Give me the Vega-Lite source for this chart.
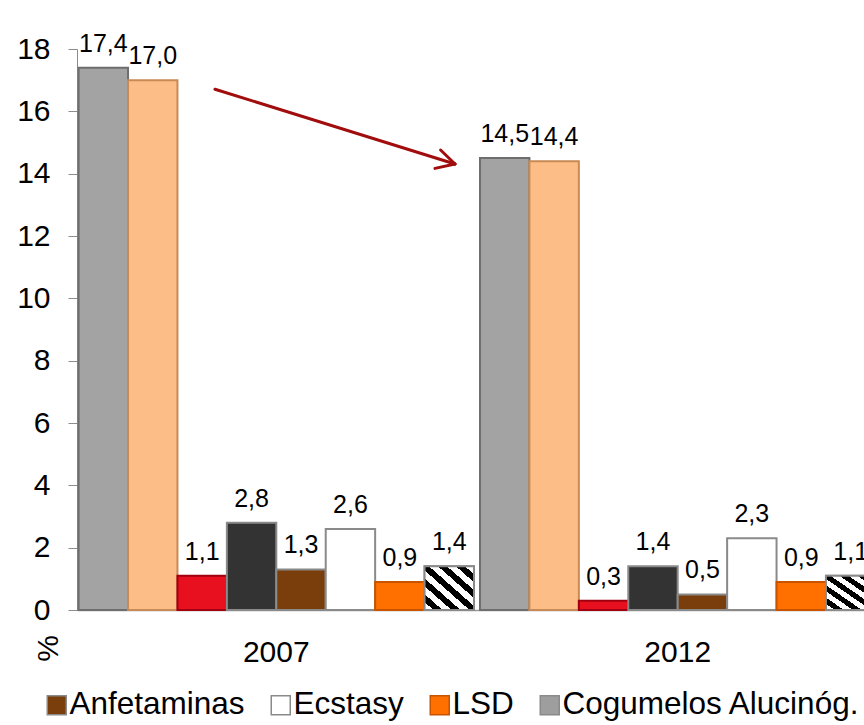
{
  "$schema": "https://vega.github.io/schema/vega-lite/v6.json",
  "width": 787,
  "height": 561,
  "autosize": {"type": "none"},
  "padding": {"left": 77, "top": 49, "right": 0, "bottom": 115},
  "background": "#ffffff",
  "config": {
    "locale": {"number": {"decimal": ",", "thousands": ".", "grouping": [3], "currency": ["", " €"]}},
    "font": "Liberation Sans",
    "view": {"stroke": null}
  },
  "datasets": {
    "prev": [
      {"ano": "2007", "substancia": "Qualquer droga", "valor": 17.4},
      {"ano": "2007", "substancia": "Cannabis", "valor": 17.0},
      {"ano": "2007", "substancia": "Heroína", "valor": 1.1},
      {"ano": "2007", "substancia": "Cocaína", "valor": 2.8},
      {"ano": "2007", "substancia": "Anfetaminas", "valor": 1.3},
      {"ano": "2007", "substancia": "Ecstasy", "valor": 2.6},
      {"ano": "2007", "substancia": "LSD", "valor": 0.9},
      {"ano": "2007", "substancia": "Cogumelos Alucinóg.", "valor": 1.4},
      {"ano": "2012", "substancia": "Qualquer droga", "valor": 14.5},
      {"ano": "2012", "substancia": "Cannabis", "valor": 14.4},
      {"ano": "2012", "substancia": "Heroína", "valor": 0.3},
      {"ano": "2012", "substancia": "Cocaína", "valor": 1.4},
      {"ano": "2012", "substancia": "Anfetaminas", "valor": 0.5},
      {"ano": "2012", "substancia": "Ecstasy", "valor": 2.3},
      {"ano": "2012", "substancia": "LSD", "valor": 0.9},
      {"ano": "2012", "substancia": "Cogumelos Alucinóg.", "valor": 1.1}
    ],
    "seta": [
      {"x": 0.345, "y": 16.71, "x2": 0.945, "y2": 14.31},
      {"x": 0.909, "y": 14.76, "x2": 0.945, "y2": 14.31},
      {"x": 0.895, "y": 14.17, "x2": 0.945, "y2": 14.31}
    ]
  },
  "resolve": {"scale": {"x": "independent"}, "axis": {"x": "independent"}},
  "layer": [
    {
      "data": {"name": "prev"},
      "encoding": {
        "x": {
          "field": "ano",
          "type": "nominal",
          "scale": {"domain": ["2007", "2012"], "range": [0, 800], "paddingInner": 0.015, "paddingOuter": 0.004},
          "axis": {
            "title": null,
            "labelAngle": 0,
            "labelFontSize": 30,
            "labelColor": "#000000",
            "labelPadding": 27,
            "ticks": false,
            "tickSize": 0,
            "domainColor": "#9a9a9a",
            "domainWidth": 1.5
          }
        },
        "xOffset": {
          "field": "substancia",
          "type": "nominal",
          "scale": {
            "domain": ["Qualquer droga", "Cannabis", "Heroína", "Cocaína", "Anfetaminas", "Ecstasy", "LSD", "Cogumelos Alucinóg."],
            "paddingInner": 0,
            "paddingOuter": 0
          }
        },
        "y": {
          "field": "valor",
          "type": "quantitative",
          "scale": {"domain": [0, 18]},
          "axis": {
            "values": [0, 2, 4, 6, 8, 10, 12, 14, 16, 18],
            "grid": false,
            "labelFontSize": 30,
            "labelColor": "#000000",
            "labelPadding": 18,
            "tickSize": 9,
            "tickColor": "#8c8c8c",
            "domainColor": "#8c8c8c",
            "title": "%",
            "titleFontSize": 30,
            "titleFontWeight": "normal",
            "titleColor": "#000000",
            "titleAngle": 270,
            "titleX": -29,
            "titleY": 599,
            "titleAlign": "center",
            "titleBaseline": "middle"
          }
        }
      },
      "layer": [
        {
          "mark": {"type": "bar", "strokeWidth": 2},
          "encoding": {
            "color": {
              "field": "substancia",
              "type": "nominal",
              "scale": {
                "domain": ["Qualquer droga", "Cannabis", "Heroína", "Cocaína", "Anfetaminas", "Ecstasy", "LSD", "Cogumelos Alucinóg."],
                "range": ["#a3a3a3", "#fdbd86", "#e8101e", "#333333", "#7a3e0c", "#ffffff", "#ff7000", "#9e9e9e"]
              },
              "legend": {
                "values": ["Anfetaminas", "Ecstasy", "LSD", "Cogumelos Alucinóg."],
                "title": null,
                "orient": "none",
                "legendX": -36,
                "legendY": 640,
                "direction": "horizontal",
                "symbolType": "square",
                "symbolSize": 361,
                "symbolStrokeWidth": 1.5,
                "labelFontSize": 31.5,
                "labelColor": "#000000",
                "labelOffset": -3,
                "labelLimit": 0,
                "columnPadding": 20,
                "padding": 0
              }
            },
            "stroke": {
              "field": "substancia",
              "type": "nominal",
              "scale": {
                "domain": ["Qualquer droga", "Cannabis", "Heroína", "Cocaína", "Anfetaminas", "Ecstasy", "LSD", "Cogumelos Alucinóg."],
                "range": ["#6e6e6e", "#c98a55", "#a00010", "#8a8a8a", "#8a8a8a", "#8a8a8a", "#c85400", "#8a8a8a"]
              },
              "legend": {
                "values": ["Anfetaminas", "Ecstasy", "LSD", "Cogumelos Alucinóg."],
                "title": null,
                "orient": "none",
                "legendX": -36,
                "legendY": 640,
                "direction": "horizontal",
                "symbolType": "square",
                "symbolSize": 361,
                "symbolStrokeWidth": 1.5,
                "labelFontSize": 31.5,
                "labelColor": "#000000",
                "labelOffset": -3,
                "labelLimit": 0,
                "columnPadding": 20,
                "padding": 0
              }
            }
          }
        },
        {
          "transform": [{"filter": "datum.substancia === 'Cogumelos Alucinóg.'"}],
          "mark": {
            "type": "bar",
            "stroke": "#8a8a8a",
            "strokeWidth": 2,
            "fill": {
              "gradient": "linear",
              "x1": 0, "y1": 1, "x2": 1, "y2": 0,
              "stops": [
                {"offset": 0, "color": "#ffffff"},
                {"offset": 0.0909, "color": "#ffffff"},
                {"offset": 0.0909, "color": "#000000"},
                {"offset": 0.1818, "color": "#000000"},
                {"offset": 0.1818, "color": "#ffffff"},
                {"offset": 0.2727, "color": "#ffffff"},
                {"offset": 0.2727, "color": "#000000"},
                {"offset": 0.3636, "color": "#000000"},
                {"offset": 0.3636, "color": "#ffffff"},
                {"offset": 0.4545, "color": "#ffffff"},
                {"offset": 0.4545, "color": "#000000"},
                {"offset": 0.5455, "color": "#000000"},
                {"offset": 0.5455, "color": "#ffffff"},
                {"offset": 0.6364, "color": "#ffffff"},
                {"offset": 0.6364, "color": "#000000"},
                {"offset": 0.7273, "color": "#000000"},
                {"offset": 0.7273, "color": "#ffffff"},
                {"offset": 0.8182, "color": "#ffffff"},
                {"offset": 0.8182, "color": "#000000"},
                {"offset": 0.9091, "color": "#000000"},
                {"offset": 0.9091, "color": "#ffffff"},
                {"offset": 1, "color": "#ffffff"}
              ]
            }
          },
          "encoding": {}
        },
        {
          "mark": {"type": "text", "dy": -16, "baseline": "alphabetic", "align": "center", "fontSize": 25, "color": "#000000"},
          "encoding": {
            "text": {"field": "valor", "type": "quantitative", "format": ".1f"}
          }
        }
      ]
    },
    {
      "data": {"name": "seta"},
      "mark": {"type": "rule", "color": "#a10d0d", "strokeWidth": 3, "strokeCap": "round"},
      "encoding": {
        "x": {"field": "x", "type": "quantitative", "scale": {"domain": [0, 2], "range": [0, 800]}, "axis": null},
        "x2": {"field": "x2"},
        "y": {
          "field": "y",
          "type": "quantitative",
          "scale": {"domain": [0, 18]},
          "axis": {
            "values": [0, 2, 4, 6, 8, 10, 12, 14, 16, 18],
            "grid": false,
            "labelFontSize": 30,
            "labelColor": "#000000",
            "labelPadding": 18,
            "tickSize": 9,
            "tickColor": "#8c8c8c",
            "domainColor": "#8c8c8c",
            "title": "%",
            "titleFontSize": 30,
            "titleFontWeight": "normal",
            "titleColor": "#000000",
            "titleAngle": 270,
            "titleX": -29,
            "titleY": 599,
            "titleAlign": "center",
            "titleBaseline": "middle"
          }
        },
        "y2": {"field": "y2"}
      }
    }
  ]
}
